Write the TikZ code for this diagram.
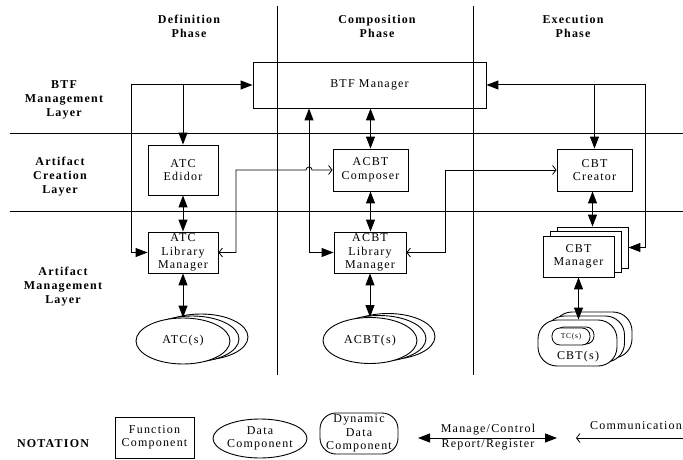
\documentclass[tikz,border=0pt]{standalone}
\usepackage{fontspec}
\setmainfont{Liberation Serif}[LetterSpace=10]
\usetikzlibrary{arrows.meta,shapes.geometric,calc}
\begin{document}
\begin{tikzpicture}[x=1pt,y=-1pt,
  every node/.style={font=\fontsize{12}{13.5}\selectfont, inner sep=0pt, align=center},
  hdr/.style={font=\fontsize{12}{14}\selectfont\bfseries},
  fbox/.style={draw, line width=0.9pt, rectangle, fill=white},
  dbox/.style={draw, line width=0.9pt, ellipse, fill=white, minimum width=94, minimum height=46},
  rbox/.style={draw, line width=0.9pt, rectangle, rounded corners=19pt, fill=white, minimum width=79, minimum height=46},
  tcbox/.style={draw, line width=0.8pt, rectangle, rounded corners=8pt, fill=white, minimum width=38, minimum height=17, font=\fontsize{7.5}{9}\selectfont},
  divider/.style={line width=0.8pt},
  conn/.style={line width=1pt},
  arrB/.style={conn, {Triangle[length=12pt,width=9pt]}-{Triangle[length=12pt,width=9pt]}},
  arrE/.style={conn, -{Triangle[length=12pt,width=9pt]}},
  comm/.style={line width=0.8pt, {Straight Barb[length=3.5pt,width=9pt]}-{Straight Barb[length=3.5pt,width=9pt]}},
  commS/.style={line width=0.8pt, -{Straight Barb[length=3.5pt,width=9pt]}}
]
\useasboundingbox (0,0) rectangle (683,460);

% phase dividers and layer lines
\coordinate (v1t) at (277,6);   \coordinate (v1b) at (277,375);
\coordinate (v2t) at (473,6);   \coordinate (v2b) at (473,375);
\coordinate (h1l) at (10,133);  \coordinate (h1r) at (683,133);
\coordinate (h2l) at (10,211);  \coordinate (h2r) at (683,211);
\draw[divider] (v1t) -- (v1b);
\draw[divider] (v2t) -- (v2b);
\draw[divider] (h1l) -- (h1r);
\draw[divider] (h2l) -- (h2r);

% headers
\node[hdr] (ph1) at (189,26) {Definition\\Phase};
\node[hdr] (ph2) at (377,26) {Composition\\Phase};
\node[hdr] (ph3) at (573,26) {Execution\\Phase};
\node[hdr] (ly1) at (64,100) {BTF\\Management\\Layer};
\node[hdr] (ly2) at (60,176.5) {Artifact\\Creation\\Layer};
\node[hdr] (ly3) at (63,287) {Artifact\\Management\\Layer};

% boxes
\node[draw, line width=0.9pt, minimum width=233, minimum height=46] (btf) at (369.5,85) {BTF Manager};
\node[fbox, minimum width=70, minimum height=50] (atced) at (183,170) {ATC\\Edidor};
\node[fbox, minimum width=75, minimum height=42] (acbtc) at (370.5,170) {ACBT\\Composer};
\node[fbox, minimum width=75, minimum height=42] (cbtc) at (594.5,170) {CBT\\Creator};
\node[fbox, minimum width=70, minimum height=41] (atclm) at (183,252.5) {ATC\\Library\\Manager};
\node[fbox, minimum width=72, minimum height=41] (acbtlm) at (370,252.5) {ACBT\\Library\\Manager};
\node[fbox, minimum width=71, minimum height=41] (cbtm3) at (592.5,247.5) {};
\node[fbox, minimum width=71, minimum height=41] (cbtm2) at (585.5,252) {};
\node[fbox, minimum width=71, minimum height=41] (cbtm) at (578.5,256.5) {CBT\\Manager};

% data components
\node[dbox] (atcs3) at (201,337) {};
\node[dbox] (atcs2) at (192,339) {};
\node[dbox] (atcs) at (183,341) {ATC(s)};
\node[dbox] (acbts3) at (388,336.5) {};
\node[dbox] (acbts2) at (379,338.5) {};
\node[dbox] (acbts) at (370,340.5) {ACBT(s)};
\node[rbox] (cbts3) at (592.5,335) {};
\node[rbox] (cbts2) at (585,339) {};
\node[rbox] (cbts) at (577.5,343) {};
\node[tcbox] (tc2) at (575,335.5) {};
\node[tcbox] (tc) at (571,336.5) {TC(s)};
\node (cbtl) at (578,357) {CBT(s)};

% named bends
\coordinate (xl) at (131,0);
\coordinate (xr) at (645,0);
\coordinate (xc) at (309,0);
\coordinate (c1) at (236,170);
\coordinate (c2) at (445,170);

% BTF manager connectors
\draw[arrB] (btf.west) -| (xl |- atclm.west) -- (atclm.west);
\draw[arrE] (atced.north |- btf.west) -- (atced.north);
\draw[arrB] (btf.east) -| (xr |- cbtm3.east) -- (cbtm3.east);
\draw[arrE] (cbtc.north |- btf.east) -- (cbtc.north);
\draw[arrB] (btf.south -| acbtc.north) -- (acbtc.north);
\draw[arrB] (btf.south -| xc) -- (xc |- acbtlm.west) -- (acbtlm.west);

% vertical manage links
\draw[arrB] (atced.south) -- (atclm.north);
\draw[arrB] (acbtc.south) -- (acbtc.south |- acbtlm.north);
\draw[arrB] (cbtc.south -| cbtm3.north) -- (cbtm3.north);
\draw[arrB] (atclm.south) -- (atcs.north);
\draw[arrB] (acbtlm.south) -- (acbtlm.south |- acbts.north);
\draw[arrB] (cbtm.south) -- (cbtm.south |- cbts.north);

% communication links
\draw[comm] (atclm.east) -| (c1) -- ($(xc |- c1)+(-3,0)$) arc[start angle=180, end angle=360, radius=3] -- (acbtc.west);
\draw[comm] (acbtlm.east) -| (c2) -- (cbtc.west);

% notation
\node[hdr] (notn) at (53,444) {NOTATION};
\node[fbox, minimum width=79, minimum height=41] (fc) at (154.5,437.5) {Function\\Component};
\node[dbox, minimum height=39] (dc) at (260,438.5) {Data\\Component};
\node[rbox, minimum width=78, minimum height=41, rounded corners=16pt] (ddc) at (359,433.5) {Dynamic\\Data\\Component};
\coordinate (m1) at (418,438);
\coordinate (m2) at (557,438);
\draw[arrB] (m1) -- (m2);
\node (mc) at (488,430) {Manage/Control};
\node (rr) at (488,445) {Report/Register};
\coordinate (k1) at (576,438);
\coordinate (k2) at (683,438);
\draw[commS] (k2) -- (k1);
\node (cm) at (636,426) {Communication};
\end{tikzpicture}
\end{document}
